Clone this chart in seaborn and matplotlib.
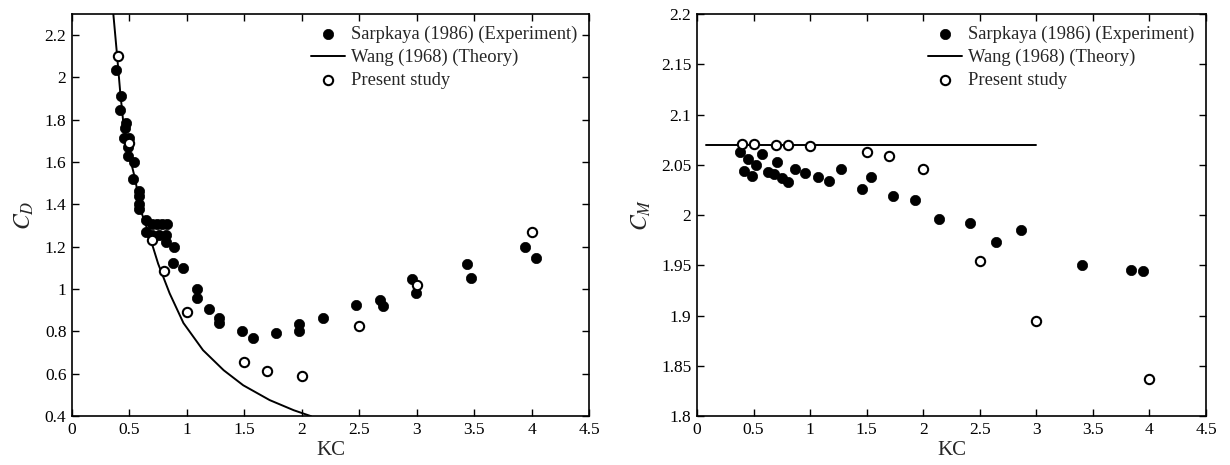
"""
Oscillating cylinder: drag and inertia coefficients against KC.
"""

import numpy as np
import pandas as pd
import matplotlib
matplotlib.use("Agg")
import matplotlib.pyplot as plt
import seaborn as sns

# ---- drag coefficient (left panel) ----
cd_exp_kc = [0.383, 0.426, 0.418, 0.467, 0.461, 0.455, 0.499, 0.490, 0.490, 0.540,
             0.534, 0.586, 0.586, 0.586, 0.586, 0.644, 0.641, 0.693, 0.737, 0.780,
             0.829, 0.693, 0.760, 0.818, 0.818, 0.891, 0.882, 0.969, 1.085, 1.085,
             1.190, 1.282, 1.282, 1.477, 1.573, 1.778, 1.978, 1.978, 2.184, 2.468,
             2.681, 2.710, 2.956, 2.990, 3.441, 3.475, 3.945, 4.040]
cd_exp = [2.033, 1.913, 1.846, 1.787, 1.762, 1.715, 1.715, 1.672, 1.630, 1.599,
          1.520, 1.465, 1.439, 1.402, 1.378, 1.329, 1.271, 1.306, 1.306, 1.306,
          1.306, 1.255, 1.255, 1.255, 1.221, 1.200, 1.123, 1.098, 1.003, 0.959,
          0.904, 0.866, 0.838, 0.800, 0.770, 0.792, 0.834, 0.802, 0.862, 0.924,
          0.951, 0.921, 1.050, 0.983, 1.118, 1.055, 1.200, 1.148]

cd_wang_kc = [0.36, 0.39, 0.42, 0.45, 0.50, 0.55, 0.60, 0.67, 0.71, 0.75,
              0.85, 0.97, 1.14, 1.32, 1.49, 1.72, 1.93, 2.08]
cd_wang = [2.30, 2.12, 1.93, 1.77, 1.63, 1.52, 1.37, 1.26, 1.19, 1.12,
           0.98, 0.84, 0.712, 0.617, 0.546, 0.476, 0.428, 0.400]

cd_present_kc = [0.4, 0.5, 0.7, 0.8, 1.0, 1.5, 1.7, 2.0, 2.5, 3.0, 4.0]
cd_present = [2.10, 1.69, 1.23, 1.085, 0.89, 0.657, 0.614, 0.590, 0.825, 1.02, 1.27]

# ---- inertia coefficient (right panel) ----
cm_exp_kc = [0.380, 0.454, 0.413, 0.522, 0.484, 0.572, 0.631, 0.676, 0.711, 0.749,
             0.808, 0.867, 0.952, 1.073, 1.165, 1.273, 1.456, 1.536, 1.730, 1.926,
             2.141, 2.410, 2.644, 2.868, 3.404, 3.840, 3.943]
cm_exp = [2.0624, 2.056, 2.044, 2.050, 2.039, 2.061, 2.043, 2.041, 2.053, 2.0365,
          2.033, 2.0455, 2.042, 2.0375, 2.034, 2.0455, 2.0256, 2.038, 2.019, 2.015,
          1.996, 1.992, 1.973, 1.985, 1.950, 1.945, 1.9446]

cm_wang_kc = [0.08, 3.0]
cm_wang = [2.07, 2.07]

cm_present_kc = [0.4, 0.5, 0.7, 0.8, 1.0, 1.5, 1.7, 2.0, 2.5, 3.0, 4.0]
cm_present = [2.071, 2.071, 2.070, 2.070, 2.069, 2.063, 2.059, 2.0455, 1.954, 1.8945, 1.837]

LABELS = ["Sarpkaya (1986) (Experiment)", "Wang (1968) (Theory)", "Present study"]

sns.set_theme(style="ticks")
plt.rcParams.update({
    "font.family": ["Liberation Serif", "DejaVu Serif"],
    "mathtext.fontset": "stix",
    "xtick.direction": "in",
    "ytick.direction": "in",
    "xtick.top": True,
    "ytick.right": True,
    "xtick.labelsize": 12.5,
    "ytick.labelsize": 12.5,
    "axes.linewidth": 1.2,
    "axes.edgecolor": "black",
    "xtick.color": "black",
    "ytick.color": "black",
})


def draw_panel(ax, exp_kc, exp_val, th_kc, th_val, pr_kc, pr_val, ylabel):
    sns.scatterplot(x=exp_kc, y=exp_val, ax=ax, color="black", s=55,
                    edgecolor="black", linewidth=0.5, label=LABELS[0], zorder=3)
    sns.lineplot(x=th_kc, y=th_val, ax=ax, color="black", linewidth=1.4,
                 sort=False, label=LABELS[1], zorder=2)
    sns.scatterplot(x=pr_kc, y=pr_val, ax=ax, color="white", s=45,
                    edgecolor="black", linewidth=1.5, label=LABELS[2], zorder=4)
    ax.set_xlabel("KC", fontsize=15, labelpad=2)
    ax.set_ylabel(ylabel, fontsize=17, labelpad=6)
    ax.set_xlim(0, 4.5)
    ax.set_xticks(np.arange(0, 4.51, 0.5))
    ax.set_xticklabels(["0", "0.5", "1", "1.5", "2", "2.5", "3", "3.5", "4", "4.5"])
    ax.tick_params(length=5, width=1, pad=4)
    ax.legend(loc="upper right", frameon=False, fontsize=13.3,
              handlelength=1.8, handletextpad=0.33, labelspacing=0.3,
              borderaxespad=0.25)


fig = plt.figure(figsize=(12.3, 4.65), dpi=100)
ax1 = fig.add_axes([0.0585, 0.105, 0.4205, 0.865])
ax2 = fig.add_axes([0.5667, 0.105, 0.4138, 0.865])

draw_panel(ax1, cd_exp_kc, cd_exp, cd_wang_kc, cd_wang, cd_present_kc, cd_present,
           "$C_D$")
ax1.set_ylim(0.4, 2.3)
ax1.set_yticks(np.arange(0.4, 2.21, 0.2))
ax1.set_yticklabels(["0.4", "0.6", "0.8", "1", "1.2", "1.4", "1.6", "1.8", "2", "2.2"])

draw_panel(ax2, cm_exp_kc, cm_exp, cm_wang_kc, cm_wang, cm_present_kc, cm_present,
           "$C_M$")
ax2.set_ylim(1.8, 2.2)
ax2.set_yticks(np.arange(1.8, 2.201, 0.05))
ax2.set_yticklabels(["1.8", "1.85", "1.9", "1.95", "2", "2.05", "2.1", "2.15", "2.2"])

fig.savefig("out.png", dpi=100)
